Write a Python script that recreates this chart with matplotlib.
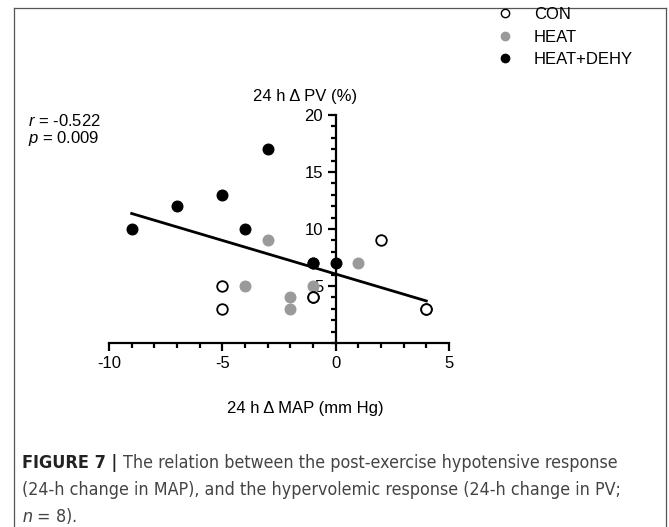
import numpy as np
import matplotlib.pyplot as plt
from matplotlib.lines import Line2D
from matplotlib.ticker import MultipleLocator

plt.rcParams['font.family'] = ['Liberation Sans', 'DejaVu Sans']
plt.rcParams['mathtext.fontset'] = 'custom'
plt.rcParams['mathtext.it'] = 'Liberation Sans:italic'
plt.rcParams['mathtext.rm'] = 'Liberation Sans'
plt.rcParams['axes.unicode_minus'] = False

# data (x = 24 h change in MAP, y = 24 h change in PV)
con_x = [-5, -5, -1, -1, 2, 4, 4]
con_y = [5, 3, 4, 4, 9, 3, 3]
heat_x = [-4, -3, -2, -2, -1, 1]
heat_y = [5, 9, 4, 3, 5, 7]
dehy_x = [-9, -7, -5, -4, -3, -1, -1, 0]
dehy_y = [10, 12, 13, 10, 17, 7, 7, 7]

# regression line as drawn
fit_slope = -0.59
fit_intercept = 6.05
fit_range = [-9, 4]

r_text = '$r$ = -0.522'
p_text = '$p$ = 0.009'

fig = plt.figure(figsize=(6.69, 5.27), dpi=100)
ax = fig.add_axes([109 / 669, 1 - 343 / 527, 340 / 669, 228 / 527])

ax.scatter(dehy_x, dehy_y, s=58, color='black', zorder=3)
ax.scatter(heat_x, heat_y, s=58, color='#9a9a9a', zorder=3)
ax.scatter(con_x, con_y, s=58, facecolor='white', edgecolor='black',
           linewidth=1.3, zorder=4)

fx = np.array(fit_range)
ax.plot(fx, fit_slope * fx + fit_intercept, color='black', lw=2, zorder=2)

ax.set_xlim(-10, 5)
ax.set_ylim(0, 20)
ax.spines['left'].set_position(('data', 0))
ax.spines['bottom'].set_position(('data', 0))
ax.spines['top'].set_visible(False)
ax.spines['right'].set_visible(False)
for s in ['left', 'bottom']:
    ax.spines[s].set_linewidth(1.6)
ax.set_xticks([-10, -5, 0, 5])
ax.set_yticks([5, 10, 15, 20])
ax.xaxis.set_minor_locator(MultipleLocator(1))
ax.yaxis.set_minor_locator(MultipleLocator(1))
ax.tick_params(which='major', length=6, width=1.6, labelsize=12, pad=3)
ax.tick_params(which='minor', length=3.5, width=1.6)
ax.set_facecolor('none')

fig.text(305 / 669, 1 - 97 / 527, '24 h \u0394 PV (%)', ha='center',
         va='center', fontsize=12)
fig.text(305 / 669, 1 - 408 / 527, '24 h \u0394 MAP (mm Hg)', ha='center',
         va='center', fontsize=12)
fig.text(28 / 669, 1 - 121 / 527, r_text, ha='left', va='center', fontsize=12)
fig.text(28 / 669, 1 - 138 / 527, p_text, ha='left', va='center', fontsize=12)

handles = [
    Line2D([], [], ls='none', marker='o', ms=6, mfc='white', mec='black', mew=1),
    Line2D([], [], ls='none', marker='o', ms=6, mfc='#9a9a9a', mec='#9a9a9a'),
    Line2D([], [], ls='none', marker='o', ms=6, mfc='black', mec='black'),
]
fig.legend(handles, ['CON', 'HEAT', 'HEAT+DEHY'], loc='upper left',
           bbox_to_anchor=(473 / 669, 1 + 8 / 527), frameon=False,
           fontsize=12, handletextpad=0.75, labelspacing=0.45)

# outer panel border
bc = '#555555'
fig.add_artist(Line2D([14 / 669, 14 / 669], [0, 1 - 8 / 527], color=bc, lw=0.9))
fig.add_artist(Line2D([14 / 669, 666 / 669], [1 - 8 / 527, 1 - 8 / 527], color=bc, lw=0.9))
fig.add_artist(Line2D([666 / 669, 666 / 669], [0, 1 - 8 / 527], color=bc, lw=0.9))

# caption
cap_kw = dict(family=['DejaVu Sans'], fontstretch='condensed', va='center')
renderer = fig.canvas.get_renderer()
t1 = fig.text(22 / 669, 1 - 463 / 527, 'FIGURE 7 |', fontweight='bold',
              fontsize=13, color='#222222', **cap_kw)
bb = t1.get_window_extent(renderer)
fig.text(bb.x1 / 669 + 6 / 669, 1 - 463 / 527,
         'The relation between the post-exercise hypotensive response',
         fontsize=12.8, color='#444444', **cap_kw)
fig.text(22 / 669, 1 - 490 / 527,
         '(24-h change in MAP), and the hypervolemic response (24-h change in PV;',
         fontsize=12.8, color='#444444', **cap_kw)
fig.text(22 / 669, 1 - 516 / 527, '$n$ = 8).', fontsize=12.8,
         color='#444444', **cap_kw)

fig.savefig('out.png', dpi=100)
